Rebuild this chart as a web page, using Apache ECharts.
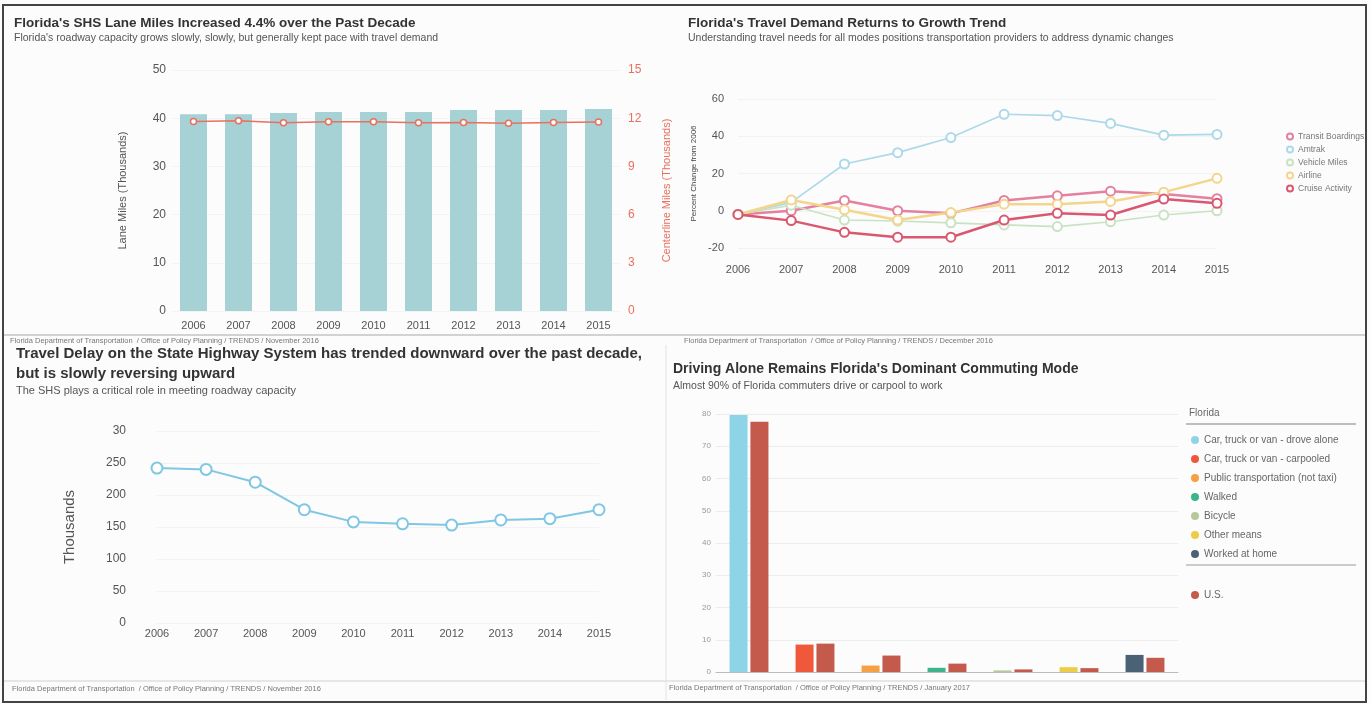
<!DOCTYPE html>
<html>
<head>
<meta charset="utf-8">
<title>Florida transportation trends</title>
<script src="https://cdn.jsdelivr.net/npm/echarts@6/dist/echarts.min.js"></script>
<style>
  html, body { margin: 0; padding: 0; background: #fcfcfc; }
  #main { width: 1370px; height: 704px; }
</style>
</head>
<body>
<div id="main"></div>
<script>
// 年份（四个图共用）
const years = ['2006', '2007', '2008', '2009', '2010', '2011', '2012', '2013', '2014', '2015']

// 左上：车道里程 / 中心线里程（千英里）
const laneMiles = [40.8, 40.8, 41.1, 41.3, 41.3, 41.3, 41.7, 41.7, 41.7, 41.9]
const centerlineMiles = [11.8, 11.84, 11.72, 11.78, 11.78, 11.72, 11.74, 11.68, 11.74, 11.76]

// 右上：相对2006年的变化百分比
const demandNames = ['Transit Boardings', 'Amtrak', 'Vehicle Miles', 'Airline', 'Cruise Activity']
const transitBoardings = [-2, 0, 5.5, 0, -1.4, 5.5, 8, 10.5, 9, 6.5]
const amtrak = [-2, 4.5, 25.1, 31.2, 39.3, 51.8, 51.1, 46.9, 40.6, 41]
const vehicleMiles = [-2, 3, -5, -5.5, -6.5, -7.6, -8.5, -5.9, -2.3, 0]
const airline = [-2, 5.8, 0.5, -5, -1, 3.5, 3.5, 5, 10, 17.4]
const cruiseActivity = [-2, -5.3, -11.6, -14.2, -14.2, -5, -1.4, -2.3, 6.3, 4]

// 左下：出行延误（千）
const travelDelay = [242, 240, 220, 177, 158, 155, 153, 161, 163, 177]
const delayTickLabels = ['0', '50', '100', '150', '200', '250', '30']

// 右下：通勤方式（%）
const modes = ['Car, truck or van - drove alone', 'Car, truck or van - carpooled', 'Public transportation (not taxi)', 'Walked', 'Bicycle', 'Other means', 'Worked at home']
const florida = [79.7, 8.5, 2.0, 1.3, 0.5, 1.5, 5.3]
const us = [77.6, 8.8, 5.1, 2.6, 0.8, 1.2, 4.4]
const modeColors = ['#8fd3e6', '#f0583c', '#f5a043', '#3db58c', '#b7c99b', '#eccd45', '#4b6176']

const footer = 'Florida Department of Transportation  / Office of Policy Planning / TRENDS / '
const font = 'Liberation Sans, Arial, sans-serif'

const chart = echarts.init(document.getElementById('main'))

const demandColors = ['#e4819f', '#acd9ea', '#c9e2c3', '#f3d58c', '#d9586f']
const demandData = [transitBoardings, amtrak, vehicleMiles, airline, cruiseActivity]

const demandSeries = demandNames.map((name, i) => ({
  name: name,
  type: 'line',
  xAxisIndex: 1,
  yAxisIndex: 2,
  data: demandData[i],
  symbol: 'circle',
  symbolSize: 9,
  lineStyle: { color: demandColors[i], width: i === 1 || i === 2 ? 1.6 : 2.5 },
  itemStyle: { color: '#fff', borderColor: demandColors[i], borderWidth: 2 },
  z: i === 4 ? 5 : 3
}))

// 佛罗里达各方式单独一个系列，叠在同一个stack里，这样图例能逐项显示
const floridaSeries = modes.map((name, i) => ({
  name: name,
  type: 'bar',
  stack: 'fl',
  xAxisIndex: 3,
  yAxisIndex: 4,
  barWidth: 18,
  barGap: '16%',
  data: modes.map((m, j) => (j === i ? florida[i] : '-')),
  itemStyle: { color: modeColors[i] }
}))

const option = {
  backgroundColor: '#fcfcfc',
  textStyle: { fontFamily: font },
  animation: false,
  title: [
    {
      text: "Florida's SHS Lane Miles Increased 4.4% over the Past Decade",
      subtext: "Florida's roadway capacity grows slowly, slowly, but generally kept pace with travel demand",
      left: 9, top: 11, itemGap: 3,
      textStyle: { fontSize: 13.5, fontWeight: 'bold', color: '#333', fontFamily: font },
      subtextStyle: { fontSize: 10.5, color: '#555', fontFamily: font }
    },
    {
      text: "Florida's Travel Demand Returns to Growth Trend",
      subtext: 'Understanding travel needs for all modes positions transportation providers to address dynamic changes',
      left: 683, top: 11, itemGap: 3,
      textStyle: { fontSize: 13.5, fontWeight: 'bold', color: '#333', fontFamily: font },
      subtextStyle: { fontSize: 10.5, color: '#555', fontFamily: font }
    },
    {
      text: 'Travel Delay on the State Highway System has trended downward over the past decade,\nbut is slowly reversing upward',
      subtext: 'The SHS plays a critical role in meeting roadway capacity',
      left: 11, top: 339, itemGap: 1,
      textStyle: { fontSize: 15, lineHeight: 20, fontWeight: 'bold', color: '#333', fontFamily: font },
      subtextStyle: { fontSize: 11, color: '#555', fontFamily: font }
    },
    {
      text: "Driving Alone Remains Florida's Dominant Commuting Mode",
      subtext: 'Almost 90% of Florida commuters drive or carpool to work',
      left: 668, top: 357, itemGap: 5,
      textStyle: { fontSize: 14, fontWeight: 'bold', color: '#333', fontFamily: font },
      subtextStyle: { fontSize: 10.5, color: '#555', fontFamily: font }
    }
  ],
  legend: [
    {
      data: demandNames,
      orient: 'vertical',
      left: 1281, top: 127,
      itemGap: 4, itemWidth: 6, itemHeight: 6,
      icon: 'circle',
      textStyle: { fontSize: 8.5, color: '#777', fontFamily: font }
    },
    {
      data: modes,
      orient: 'vertical',
      left: 1186, top: 430,
      itemGap: 9, itemWidth: 8, itemHeight: 8,
      icon: 'circle',
      textStyle: { fontSize: 10, color: '#666', fontFamily: font }
    },
    {
      data: ['U.S.'],
      orient: 'vertical',
      left: 1186, top: 585,
      itemWidth: 8, itemHeight: 8,
      icon: 'circle',
      textStyle: { fontSize: 10, color: '#666', fontFamily: font }
    }
  ],
  grid: [
    { left: 171, right: 749, top: 70, bottom: 393 },
    { left: 738, right: 153, top: 99, bottom: 456 },
    { left: 157, right: 771, top: 431, bottom: 81 },
    { left: 716, right: 192, top: 414, bottom: 32 }
  ],
  xAxis: [
    {
      type: 'category', gridIndex: 0, data: years,
      axisLine: { show: false }, axisTick: { show: false },
      axisLabel: { fontSize: 11, color: '#555', margin: 9 }
    },
    {
      type: 'category', gridIndex: 1, data: years, boundaryGap: false,
      axisLine: { show: false }, axisTick: { show: false },
      axisLabel: { fontSize: 11, color: '#555', margin: 16 }
    },
    {
      type: 'category', gridIndex: 2, data: years, boundaryGap: false,
      axisLine: { show: false }, axisTick: { show: false },
      axisLabel: { fontSize: 11, color: '#555', margin: 5 }
    },
    {
      type: 'category', gridIndex: 3, data: modes,
      axisLine: { lineStyle: { color: '#bbb' } }, axisTick: { show: false },
      axisLabel: { show: false }
    }
  ],
  yAxis: [
    {
      type: 'value', gridIndex: 0, min: 0, max: 50, interval: 10,
      name: 'Lane Miles (Thousands)', nameLocation: 'middle', nameGap: 43,
      nameTextStyle: { fontSize: 11, color: '#555' },
      axisLabel: { fontSize: 12, color: '#555', margin: 5 },
      splitLine: { lineStyle: { color: '#f4f4f4' } }
    },
    {
      type: 'value', gridIndex: 0, position: 'right', min: 0, max: 15, interval: 3,
      name: 'Centerline Miles (Thousands)', nameLocation: 'middle', nameGap: 40,
      nameTextStyle: { fontSize: 11, color: '#e8705e' },
      axisLabel: { fontSize: 12, color: '#e8705e', margin: 7 },
      splitLine: { show: false }
    },
    {
      type: 'value', gridIndex: 1, min: -20, max: 60, interval: 20,
      name: 'Percent Change from 2006', nameLocation: 'middle', nameGap: 40,
      nameTextStyle: { fontSize: 8, color: '#444' },
      axisLabel: { fontSize: 11, color: '#555', margin: 14 },
      splitLine: { lineStyle: { color: '#f2f2f2' } }
    },
    {
      type: 'value', gridIndex: 2, min: 0, max: 300, interval: 50,
      name: 'Thousands', nameLocation: 'middle', nameGap: 80,
      nameTextStyle: { fontSize: 15, color: '#555' },
      axisLabel: { fontSize: 12, color: '#555', margin: 31, formatter: v => delayTickLabels[v / 50] },
      splitLine: { lineStyle: { color: '#f2f2f2' } }
    },
    {
      type: 'value', gridIndex: 3, min: 0, max: 80, interval: 10,
      axisLabel: { fontSize: 8, color: '#999', margin: 5 },
      splitLine: { lineStyle: { color: '#ececec' } }
    }
  ],
  series: [
    {
      name: 'Lane Miles',
      type: 'bar', xAxisIndex: 0, yAxisIndex: 0,
      data: laneMiles, barWidth: 27,
      itemStyle: { color: '#a6d2d5' }
    },
    {
      name: 'Centerline Miles',
      type: 'line', xAxisIndex: 0, yAxisIndex: 1,
      data: centerlineMiles,
      symbol: 'circle', symbolSize: 6,
      lineStyle: { color: '#e8705e', width: 1.5 },
      itemStyle: { color: '#fff', borderColor: '#e8705e', borderWidth: 1.5 }
    },
    ...demandSeries,
    {
      name: 'Travel Delay',
      type: 'line', xAxisIndex: 2, yAxisIndex: 3,
      data: travelDelay,
      symbol: 'circle', symbolSize: 11,
      lineStyle: { color: '#7fc7e2', width: 2 },
      itemStyle: { color: '#fff', borderColor: '#7fc7e2', borderWidth: 2 }
    },
    ...floridaSeries,
    {
      name: 'U.S.',
      type: 'bar', xAxisIndex: 3, yAxisIndex: 4,
      barWidth: 18, barGap: '16%',
      data: us,
      itemStyle: { color: '#c45a4c' }
    }
  ],
  graphic: [
    { type: 'rect', shape: { x: 3, y: 5, width: 1363, height: 697 }, style: { fill: 'none', stroke: '#444', lineWidth: 2 }, silent: true },
    { type: 'line', shape: { x1: 4, y1: 335, x2: 1365, y2: 335 }, style: { stroke: '#c4c4c4', lineWidth: 1.5 } },
    { type: 'line', shape: { x1: 4, y1: 681, x2: 1365, y2: 681 }, style: { stroke: '#cfcfcf', lineWidth: 1.2 } },
    { type: 'line', shape: { x1: 666, y1: 345, x2: 666, y2: 700 }, style: { stroke: '#e2e2e2', lineWidth: 1 } },
    { type: 'text', left: 10, top: 337, style: { text: footer + 'November 2016', fontSize: 7.5, fill: '#777', fontFamily: font } },
    { type: 'text', left: 684, top: 337, style: { text: footer + 'December 2016', fontSize: 7.5, fill: '#777', fontFamily: font } },
    { type: 'text', left: 12, top: 685, style: { text: footer + 'November 2016', fontSize: 7.5, fill: '#777', fontFamily: font } },
    { type: 'text', left: 669, top: 684, style: { text: footer + 'January 2017', fontSize: 7.5, fill: '#777', fontFamily: font } },
    { type: 'text', left: 1189, top: 408, style: { text: 'Florida', fontSize: 10, fill: '#666', fontFamily: font } },
    { type: 'line', shape: { x1: 1186, y1: 424, x2: 1356, y2: 424 }, style: { stroke: '#aaa', lineWidth: 1.5 } },
    { type: 'line', shape: { x1: 1186, y1: 565, x2: 1356, y2: 565 }, style: { stroke: '#bbb', lineWidth: 1.5 } }
  ]
}

chart.setOption(option)
</script>
</body>
</html>
